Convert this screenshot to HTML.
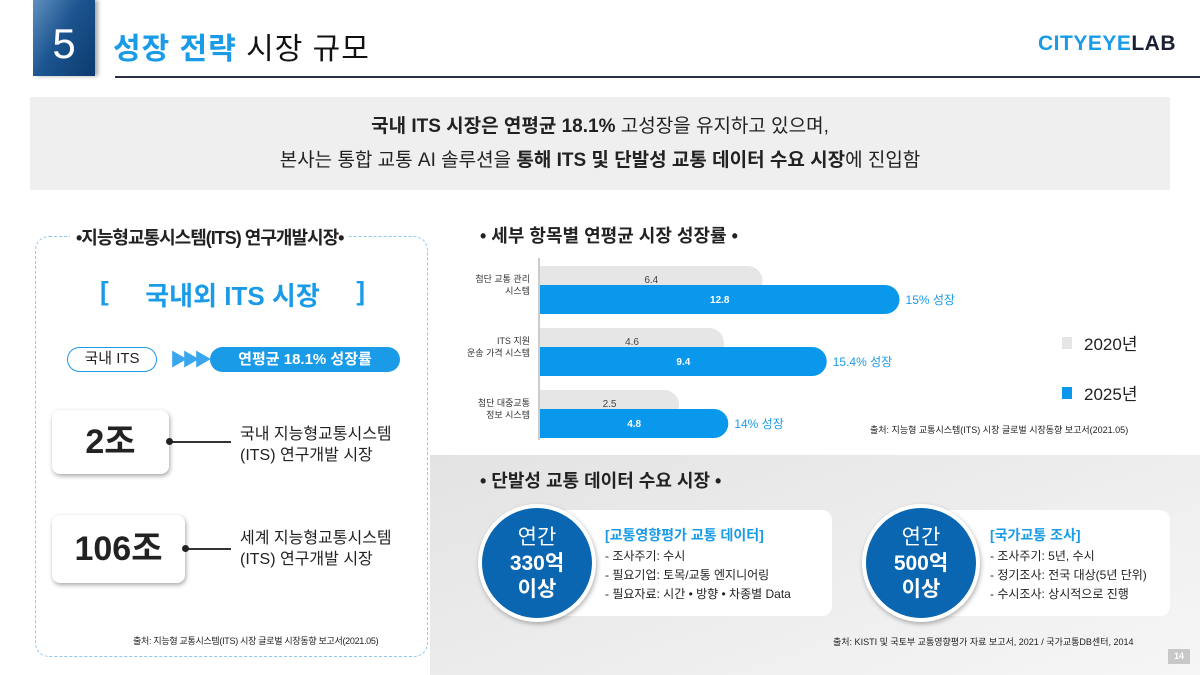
<!DOCTYPE html>
<html><head><meta charset="utf-8">
<style>
*{margin:0;padding:0;box-sizing:border-box}
body{width:1200px;height:675px;position:relative;background:#fff;font-family:"Liberation Sans","Noto Sans CJK KR",sans-serif;overflow:hidden;color:#222}
.abs{position:absolute}
</style></head><body>
<div class="abs" style="left:33px;top:0;width:62px;height:76px;background:linear-gradient(120deg,#5f8fbf 0%,#1c5590 45%,#0b3a6e 100%);box-shadow:3px 0 4px rgba(0,0,0,.35);color:#fff;font-size:42px;text-align:center;line-height:88px">5</div>
<div class="abs" style="left:113px;top:24px;font-size:30px;font-weight:bold;color:#111;letter-spacing:1px"><span style="color:#1a9be8">성장 전략</span> <span style="font-weight:normal">시장 규모</span></div>
<div class="abs" style="left:115px;top:76px;width:1085px;height:1.5px;background:#2a2f45"></div>
<div class="abs" style="left:1038px;top:32px;font-size:21px;font-weight:bold;letter-spacing:0.5px"><span style="color:#1a9be8">CITYEYE</span><span style="color:#1a1f33">LAB</span></div>
<div class="abs" style="left:30px;top:97px;width:1140px;height:93px;background:#efefef;text-align:center;font-size:19px;line-height:34px;padding-top:13px;color:#222">
<div><b>국내 ITS 시장은 연평균 18.1%</b> 고성장을 유지하고 있으며,</div>
<div>본사는 통합 교통 AI 솔루션을 <b>통해 ITS 및 단발성 교통 데이터 수요 시장</b>에 진입함</div></div>

<div class="abs" style="left:35px;top:236px;width:393px;height:421px;border:1.5px dashed #8ec9ef;border-radius:14px"></div>
<div class="abs" style="left:70px;top:224px;background:#fff;padding:0 6px;font-size:18px;font-weight:bold;letter-spacing:-1px">•지능형교통시스템(ITS) 연구개발시장•</div>
<div class="abs" style="left:100px;top:276px;width:265px;font-size:26px;font-weight:bold;color:#1a9be8;display:flex;justify-content:space-between"><span>[</span><span>국내외 ITS 시장</span><span>]</span></div>
<div class="abs" style="left:67px;top:347px;width:90px;height:25px;border:1.5px solid #1a9be8;border-radius:13px;font-size:15px;text-align:center;line-height:22px">국내 ITS</div>
<div class="abs" style="left:170px;top:346px;color:#3aa6ee;font-size:18px;letter-spacing:-6px">▶▶▶</div>
<div class="abs" style="left:210px;top:347px;width:190px;height:25px;background:#1a9be8;border-radius:13px;color:#fff;font-size:15px;font-weight:bold;text-align:center;line-height:25px">연평균 18.1% 성장률</div>
<div class="abs" style="left:52px;top:410px;width:117px;height:64px;background:#fff;border-radius:8px;box-shadow:1px 2px 5px rgba(0,0,0,.35);font-size:34px;font-weight:bold;text-align:center;line-height:64px">2조</div>
<div class="abs" style="left:169px;top:441px;width:62px;height:1.5px;background:#333"></div>
<div class="abs" style="left:166px;top:438px;width:7px;height:7px;border-radius:50%;background:#222"></div>
<div class="abs" style="left:240px;top:424px;font-size:16px;line-height:21px">국내 지능형교통시스템<br>(ITS) 연구개발 시장</div>
<div class="abs" style="left:52px;top:515px;width:133px;height:68px;background:#fff;border-radius:8px;box-shadow:1px 2px 5px rgba(0,0,0,.35);font-size:34px;font-weight:bold;text-align:center;line-height:68px">106조</div>
<div class="abs" style="left:185px;top:548px;width:46px;height:1.5px;background:#333"></div>
<div class="abs" style="left:182px;top:545px;width:7px;height:7px;border-radius:50%;background:#222"></div>
<div class="abs" style="left:240px;top:528px;font-size:16px;line-height:21px">세계 지능형교통시스템<br>(ITS) 연구개발 시장</div>
<div class="abs" style="left:133px;top:634px;font-size:9px;letter-spacing:-0.3px">출처: 지능형 교통시스템(ITS) 시장 글로벌 시장동향 보고서(2021.05)</div>

<div class="abs" style="left:480px;top:222px;font-size:18px;font-weight:bold">• 세부 항목별 연평균 시장 성장률 •</div>
<svg class="abs" style="left:0;top:0" width="1200" height="675" id="chart"></svg>
<div class="abs" style="left:870px;top:423px;font-size:9px">출처: 지능형 교통시스템(ITS) 시장 글로벌 시장동향 보고서(2021.05)</div>

<div class="abs" style="left:430px;top:455px;width:770px;height:220px;background:linear-gradient(160deg,#e3e3e3,#f6f6f6)"></div>
<div class="abs" style="left:480px;top:467px;font-size:18px;font-weight:bold">• 단발성 교통 데이터 수요 시장 •</div>
<div class="abs" style="left:540px;top:510px;width:292px;height:106px;background:#fff;border-radius:10px"></div>
<div class="abs" style="left:478px;top:504px;width:118px;height:118px;border-radius:50%;background:#0a66b0;border:4px solid #fff;box-shadow:1px 2px 5px rgba(0,0,0,.3);color:#fff;text-align:center;font-size:21px;line-height:26px;padding-top:17px"><div>연간</div><div style="font-weight:bold">330억</div><div style="font-weight:bold">이상</div></div>
<div class="abs" style="left:605px;top:526px;font-size:12px;line-height:19px"><div style="color:#1a9be8;font-weight:bold;font-size:14px;margin-bottom:2px">[교통영향평가 교통 데이터]</div><div>- 조사주기: 수시</div><div>- 필요기업: 토목/교통 엔지니어링</div><div>- 필요자료: 시간 • 방향 • 차종별 Data</div></div>
<div class="abs" style="left:920px;top:510px;width:250px;height:106px;background:#fff;border-radius:10px"></div>
<div class="abs" style="left:862px;top:504px;width:118px;height:118px;border-radius:50%;background:#0a66b0;border:4px solid #fff;box-shadow:1px 2px 5px rgba(0,0,0,.3);color:#fff;text-align:center;font-size:21px;line-height:26px;padding-top:17px"><div>연간</div><div style="font-weight:bold">500억</div><div style="font-weight:bold">이상</div></div>
<div class="abs" style="left:990px;top:526px;font-size:12px;line-height:19px"><div style="color:#1a9be8;font-weight:bold;font-size:14px;margin-bottom:2px">[국가교통 조사]</div><div>- 조사주기: 5년, 수시</div><div>- 정기조사: 전국 대상(5년 단위)</div><div>- 수시조사: 상시적으로 진행</div></div>
<div class="abs" style="left:833px;top:635px;font-size:9px">출처: KISTI 및 국토부 교통영향평가 자료 보고서, 2021 / 국가교통DB센터, 2014</div>
<div class="abs" style="left:1168px;top:649px;width:22px;height:15px;background:#c8c8c8;color:#fff;font-size:9px;font-weight:bold;text-align:center;line-height:15px">14</div>

<script>
const categories=[["첨단 교통 관리","시스템"],["ITS 지원","운송 가격 시스템"],["첨단 대중교통","정보 시스템"]];
const values2020=[6.4,4.6,2.5];
const values2025=[12.8,9.4,4.8];
const growthLabels=["15% 성장","15.4% 성장","14% 성장"];
const seriesNames=["2020년","2025년"];
const NS="http://www.w3.org/2000/svg";
const svg=document.getElementById('chart');
const x0=540;
function xLen(v){return (v+4)*21.4;}
function yTop(i){return 266+i*62;}
function mk(t,a){const e=document.createElementNS(NS,t);for(const k in a)e.setAttribute(k,a[k]);svg.appendChild(e);return e;}
function bar(y,len,h,fill){const r=h/2;return mk('path',{d:`M${x0} ${y}H${x0+len-r}A${r} ${r} 0 0 1 ${x0+len-r} ${y+h}H${x0}Z`,fill:fill});}
const ax=mk('line',{x1:539,y1:258,x2:539,y2:440,stroke:'#bbb','stroke-width':1.5});


categories.forEach((c,i)=>{
  const y=yTop(i);
  const g=bar(y,xLen(values2020[i]),30,'#e6e6e6');
  
  
  const b=bar(y+19,xLen(values2025[i]),29,'#0a98ec');
  
  
  const t1=mk('text',{x:x0+xLen(values2020[i])/2,y:y+17,'font-size':10,fill:'#444','text-anchor':'middle'});t1.textContent=values2020[i];
  
  
  const t2=mk('text',{x:x0+xLen(values2025[i])/2,y:y+37,'font-size':10,'font-weight':'bold',fill:'#fff','text-anchor':'middle'});t2.textContent=values2025[i];
  
  
  const gl=mk('text',{x:x0+xLen(values2025[i])+6,y:y+38,'font-size':12,fill:'#1a9be8'});gl.textContent=growthLabels[i];
  
  
  c.forEach((ln,j)=>{const ct=mk('text',{x:530,y:y+16+j*12,'font-size':9,fill:'#333','text-anchor':'end'});ct.textContent=ln;
    
    });
});
const lc=['#e6e6e6','#0a98ec'];
seriesNames.forEach((n,i)=>{
  const r=mk('rect',{x:1062,y:337+i*50,width:10,height:12,fill:lc[i]});
  
  
  const t=mk('text',{x:1084,y:350+i*50,'font-size':17,fill:'#222'});t.textContent=n;
  
  
});
</script>
</body></html>
